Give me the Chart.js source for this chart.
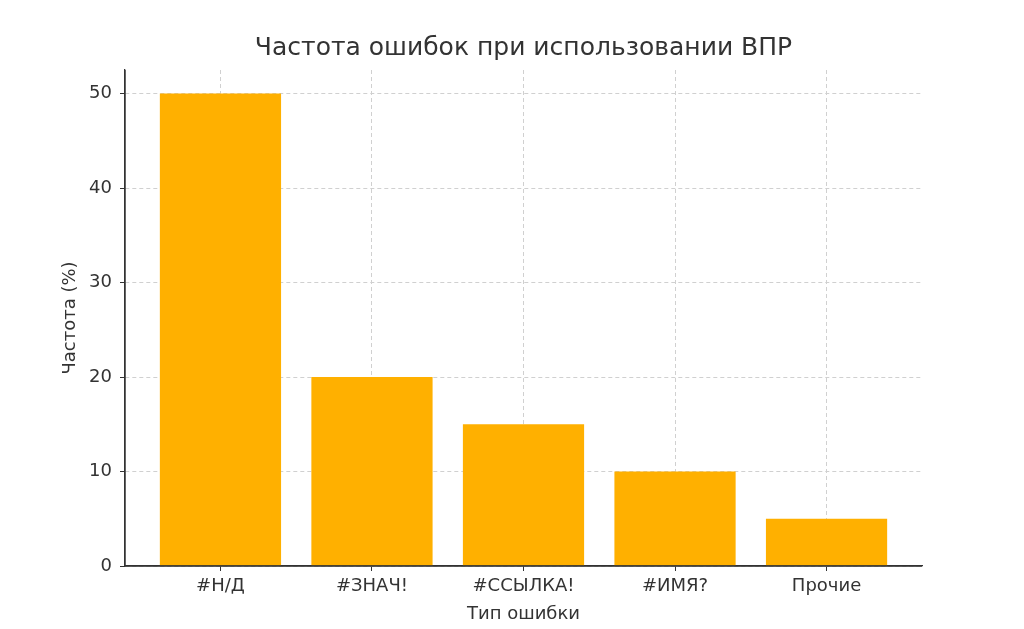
<!DOCTYPE html>
<html><head><meta charset="utf-8">
<script src="https://cdn.jsdelivr.net/npm/chart.js@4"></script>
<style>html,body{margin:0;padding:0;background:#fff}#w{width:1024px;height:629px}</style>
</head><body><div id="w"><canvas id="c"></canvas></div>
<script>
const categories = ["#Н/Д", "#ЗНАЧ!", "#ССЫЛКА!", "#ИМЯ?", "Прочие"];
const values = [50, 20, 15, 10, 5];
const yTicks = [0, 10, 20, 30, 40, 50];
const titleText = "Частота ошибок при использовании ВПР";
const xTitle = "Тип ошибки";
const yTitle = "Частота (%)";

const F = "'DejaVu Sans', sans-serif";
const titlePlugin = {
  id: 'tp',
  afterDraw(chart) {
    const ctx = chart.ctx;
    ctx.save();
    ctx.font = "25px " + F;
    ctx.fillStyle = "#333";
    ctx.textAlign = "center";
    ctx.textBaseline = "middle";
    ctx.fillText(titleText, (chart.chartArea.left + chart.chartArea.right) / 2, 48);
    ctx.restore();
  }
};
new Chart(document.getElementById('c'), {
  type: 'bar',
  data: { datasets: [{ data: values.map((v, i) => ({ x: i, y: v })), backgroundColor: '#FFB000', barPercentage: 0.8, categoryPercentage: 1 }] },
  options: {
    responsive: true, maintainAspectRatio: false, animation: false,
    layout: { padding: { top: 70, right: 102, left: 56, bottom: 0 } },
    plugins: { legend: { display: false }, tooltip: { enabled: false } },
    scales: {
      x: {
        type: 'linear', min: -0.63, max: 4.63, offset: false,
        afterBuildTicks: s => { s.ticks = categories.map((c, i) => ({ value: i })); },
        afterFit: s => { s.height = 63; },
        ticks: { callback: v => categories[v], color: '#333', font: { family: F, size: 18 }, maxRotation: 0, padding: 5 },
        grid: { offset: false, color: '#d0d0d0', tickLength: 5, tickColor: '#333' },
        border: { color: '#333', width: 1.3, dash: [4, 3] },
        title: { display: true, text: xTitle, color: '#333', font: { family: F, size: 18 }, padding: { top: 0 } }
      },
      y: {
        min: 0, max: 52.5,
        afterBuildTicks: s => { s.ticks = yTicks.map(v => ({ value: v })); },
        afterFit: s => { s.width = 69; },
        ticks: { color: '#333', font: { family: F, size: 18 }, padding: 8 },
        grid: { color: '#d0d0d0', tickLength: 5, tickColor: '#333' },
        border: { color: '#333', width: 1.3, dash: [4, 3] },
        title: { display: true, text: yTitle, color: '#333', font: { family: F, size: 18 }, padding: { bottom: 6 } }
      }
    }
  },
  plugins: [titlePlugin, {
    id: 'axes',
    afterDraw(chart) {
      const { ctx, chartArea: a } = chart;
      ctx.save(); ctx.strokeStyle = '#333'; ctx.lineWidth = 1.3; ctx.setLineDash([]);
      ctx.beginPath(); ctx.moveTo(a.left, a.top); ctx.lineTo(a.left, a.bottom); ctx.lineTo(a.right, a.bottom); ctx.stroke();
      ctx.restore();
    }
  }]
});
</script></body></html>
